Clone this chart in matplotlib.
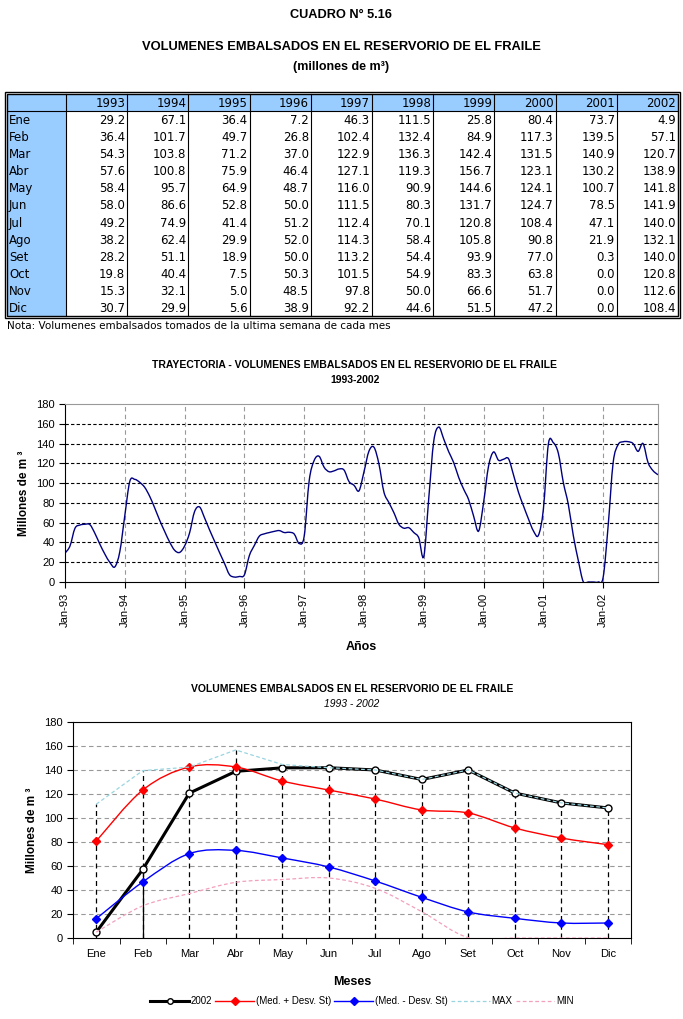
import numpy as np
import matplotlib
matplotlib.use("Agg")
import matplotlib.pyplot as plt
from matplotlib.path import Path
from matplotlib.patches import PathPatch, Rectangle
from matplotlib.lines import Line2D

plt.rcParams['font.family'] = ['Liberation Sans', 'DejaVu Sans']
NARROW = ['Liberation Sans Narrow', 'Liberation Sans', 'DejaVu Sans']

# --- data (millones de m3, ultima semana de cada mes) ---
meses = ["Ene", "Feb", "Mar", "Abr", "May", "Jun", "Jul", "Ago", "Set", "Oct", "Nov", "Dic"]
anios = [1993, 1994, 1995, 1996, 1997, 1998, 1999, 2000, 2001, 2002]
y1993 = [29.2, 36.4, 54.3, 57.6, 58.4, 58.0, 49.2, 38.2, 28.2, 19.8, 15.3, 30.7]
y1994 = [67.1, 101.7, 103.8, 100.8, 95.7, 86.6, 74.9, 62.4, 51.1, 40.4, 32.1, 29.9]
y1995 = [36.4, 49.7, 71.2, 75.9, 64.9, 52.8, 41.4, 29.9, 18.9, 7.5, 5.0, 5.6]
y1996 = [7.2, 26.8, 37.0, 46.4, 48.7, 50.0, 51.2, 52.0, 50.0, 50.3, 48.5, 38.9]
y1997 = [46.3, 102.4, 122.9, 127.1, 116.0, 111.5, 112.4, 114.3, 113.2, 101.5, 97.8, 92.2]
y1998 = [111.5, 132.4, 136.3, 119.3, 90.9, 80.3, 70.1, 58.4, 54.4, 54.9, 50.0, 44.6]
y1999 = [25.8, 84.9, 142.4, 156.7, 144.6, 131.7, 120.8, 105.8, 93.9, 83.3, 66.6, 51.5]
y2000 = [80.4, 117.3, 131.5, 123.1, 124.1, 124.7, 108.4, 90.8, 77.0, 63.8, 51.7, 47.2]
y2001 = [73.7, 139.5, 140.9, 130.2, 100.7, 78.5, 47.1, 21.9, 0.3, 0.0, 0.0, 0.0]
y2002 = [4.9, 57.1, 120.7, 138.9, 141.8, 141.9, 140.0, 132.1, 140.0, 120.8, 112.6, 108.4]
columnas = [y1993, y1994, y1995, y1996, y1997, y1998, y1999, y2000, y2001, y2002]

# bottom chart series
med_mas = [80.8, 123.3, 142.5, 142.5, 130.8, 123.3, 115.8, 106.7, 104.2, 91.7, 83.3, 77.8]
med_menos = [16.1, 46.7, 70.3, 73.0, 66.7, 59.2, 47.5, 33.9, 21.7, 16.4, 12.5, 12.5]
vmax = [111.5, 139.5, 142.4, 156.7, 144.6, 141.9, 140.0, 132.1, 140.0, 120.8, 112.6, 108.4]
vmin = [4.9, 26.8, 37.0, 46.4, 48.7, 50.0, 41.4, 21.9, 0.3, 0.0, 0.0, 0.0]

W, H = 683, 1019
fig = plt.figure(figsize=(W / 100, H / 100), dpi=100)
fig.patch.set_facecolor("white")


def smooth_path(x, y):
    # excel-like smoothed line (catmull-rom bezier)
    pts = np.column_stack([x, y]).astype(float)
    n = len(pts)
    verts = [pts[0]]
    codes = [Path.MOVETO]
    for i in range(n - 1):
        p0 = pts[i - 1] if i > 0 else pts[i]
        p1 = pts[i]
        p2 = pts[i + 1]
        p3 = pts[i + 2] if i + 2 < n else pts[i + 1]
        verts += [p1 + (p2 - p0) / 6, p2 - (p3 - p1) / 6, p2]
        codes += [Path.CURVE4] * 3
    return Path(verts, codes)


# --- table + titles on a pixel-space overlay ---
ax0 = fig.add_axes([0, 0, 1, 1])
ax0.set_xlim(0, W)
ax0.set_ylim(H, 0)
ax0.axis("off")

ax0.text(341, 15, "CUADRO N° 5.16", ha="center", va="center", fontsize=9.2,
         fontweight="bold", family=NARROW)
ax0.text(341, 47, "VOLUMENES EMBALSADOS EN EL RESERVORIO DE EL FRAILE", ha="center",
         va="center", fontsize=9.3, fontweight="bold", family=NARROW)
ax0.text(341, 67, "(millones de m³)", ha="center", va="center", fontsize=9,
         fontweight="bold", family=NARROW)

blue = "#99CCFF"
tx0, tx1, ty0, ty1 = 7, 678, 94, 316
col0 = 66
cw = (tx1 - col0) / len(anios)
hdr = 111
rh = (ty1 - hdr) / len(meses)

ax0.add_patch(Rectangle((tx0, ty0), tx1 - tx0, hdr - ty0, facecolor=blue, edgecolor="none"))
ax0.add_patch(Rectangle((tx0, ty0), col0 - tx0, ty1 - ty0, facecolor=blue, edgecolor="none"))
ax0.add_patch(Rectangle((5, 92), 675, 226, fill=False, edgecolor="black", lw=1))
ax0.add_patch(Rectangle((tx0, ty0), tx1 - tx0, ty1 - ty0, fill=False, edgecolor="black", lw=1))
ax0.plot([tx0, tx1], [hdr, hdr], color="black", lw=0.8)
for k in range(len(anios)):
    xx = col0 + cw * k
    ax0.plot([xx, xx], [ty0, ty1], color="black", lw=0.8)

for k, an in enumerate(anios):
    xr = col0 + cw * (k + 1) - 2
    ax0.text(xr, (ty0 + hdr) / 2 + 1, str(an), ha="right", va="center", fontsize=8.5,
             family="DejaVu Sans")
    for i, v in enumerate(columnas[k]):
        ax0.text(xr, hdr + rh * i + rh / 2 + 1, f"{v:.1f}", ha="right", va="center",
                 fontsize=8.5, family="DejaVu Sans")
for i, m in enumerate(meses):
    ax0.text(tx0 + 2, hdr + rh * i + rh / 2 + 1, m, ha="left", va="center", fontsize=8.5,
             family="DejaVu Sans")
ax0.text(7, 326, "Nota: Volumenes embalsados tomados de la ultima semana de cada mes",
         ha="left", va="center", fontsize=7.5, family="DejaVu Sans")

# --- trajectory chart ---
ax0.text(355, 365, "TRAYECTORIA - VOLUMENES EMBALSADOS EN EL RESERVORIO DE EL FRAILE",
         ha="center", va="center", fontsize=7.5, fontweight="bold", family=NARROW)
ax0.text(355, 380, "1993-2002", ha="center", va="center", fontsize=7.5,
         fontweight="bold", family=NARROW)

serie = np.concatenate(columnas)
idx = np.arange(len(serie))
ax1 = fig.add_axes([65 / W, 1 - 582 / H, 593 / W, 178 / H])
ax1.set_xlim(0, len(serie) - 1)
ax1.set_ylim(0, 180)
ax1.add_patch(PathPatch(smooth_path(idx, serie), fill=False, edgecolor="#000080", lw=1))
ax1.set_yticks(range(0, 181, 20))
ax1.set_xticks(range(0, len(serie), 12))
ax1.set_xticklabels([f"Jan-{str(a)[2:]}" for a in anios], rotation=90, fontsize=8)
ax1.tick_params(axis="y", labelsize=8, length=4, direction="out")
ax1.tick_params(axis="x", length=4, direction="out")
for yy in range(20, 180, 20):
    ax1.axhline(yy, color="black", lw=0.8, ls=(0, (3, 2)), zorder=0)
for xx in range(12, len(serie), 12):
    ax1.axvline(xx, color="#999999", lw=0.8, ls=(0, (4, 3)), zorder=0)
for s in ["top", "right"]:
    ax1.spines[s].set_color("#999999")
ax1.set_ylabel("Millones de m ³", fontsize=8.5, fontweight="bold")
ax1.set_xlabel("Años", fontsize=9, fontweight="bold", family=NARROW, labelpad=10)

# --- monthly envelope chart ---
ax0.text(352, 689, "VOLUMENES EMBALSADOS EN EL RESERVORIO DE EL FRAILE", ha="center",
         va="center", fontsize=7.5, fontweight="bold", family=NARROW)
ax0.text(352, 704, "1993 - 2002", ha="center", va="center", fontsize=7.5,
         style="italic", family=NARROW)

x = np.arange(len(meses))
ax2 = fig.add_axes([73 / W, 1 - 938 / H, 558 / W, 216 / H])
ax2.set_xlim(-0.5, len(meses) - 0.5)
ax2.set_ylim(0, 180)
for yy in range(20, 180, 20):
    ax2.axhline(yy, color="#999999", lw=0.8, ls=(0, (4, 3)), zorder=0)
tope = np.max([y2002, med_mas, med_menos, vmax, vmin], axis=0)
ax2.vlines(x, 0, tope, colors="black", lw=0.9, linestyles=(0, (4, 3)), zorder=1)
# solid drop line under the 2002 point at Feb, as in the original
ax2.vlines(x[1], 0, y2002[1], colors="black", lw=0.9, zorder=1)

ax2.plot(x, y2002, color="black", lw=2.2, marker="o", mfc="white", mec="black", ms=5, zorder=3)
ax2.add_patch(PathPatch(smooth_path(x, med_mas), fill=False, edgecolor="red", lw=1, zorder=3))
ax2.plot(x, med_mas, ls="none", marker="D", color="red", ms=4.5, zorder=4)
ax2.add_patch(PathPatch(smooth_path(x, med_menos), fill=False, edgecolor="#0000FF", lw=1, zorder=3))
ax2.plot(x, med_menos, ls="none", marker="D", color="#0000FF", ms=4.5, zorder=4)
ax2.plot(x, vmax, color="#99D5E0", lw=0.9, ls=(0, (3, 2)), zorder=5)
ax2.add_patch(PathPatch(smooth_path(x, vmin), fill=False, edgecolor="#F2A0BE", lw=0.9,
                        ls=(0, (3, 2)), zorder=5))

ax2.set_xticks(x)
ax2.set_xticklabels(meses, fontsize=8)
ax2.set_xticks(np.arange(-0.5, len(meses), 1), minor=True)
ax2.tick_params(axis="x", which="major", length=0, pad=8)
ax2.tick_params(axis="x", which="minor", length=4, direction="out")
ax2.set_yticks(range(0, 181, 20))
ax2.tick_params(axis="y", labelsize=8, length=4, direction="out")
ax2.set_ylabel("Millones de m ³", fontsize=8.5, fontweight="bold")
ax2.set_xlabel("Meses", fontsize=9, fontweight="bold", family=NARROW, labelpad=12)

handles = [
    Line2D([], [], color="black", lw=2.2, marker="o", mfc="white", mec="black", ms=4),
    Line2D([], [], color="red", lw=1, marker="D", ms=4),
    Line2D([], [], color="#0000FF", lw=1, marker="D", ms=4),
    Line2D([], [], color="#99D5E0", lw=0.9, ls=(0, (3, 2))),
    Line2D([], [], color="#F2A0BE", lw=0.9, ls=(0, (3, 2))),
]
labels = ["2002", "(Med. + Desv. St)", "(Med. - Desv. St)", "MAX", "MIN"]
fig.legend(handles, labels, loc="center", bbox_to_anchor=(362 / W, 1 - 1001 / H), ncol=5,
           frameon=False, fontsize=7, handlelength=4, columnspacing=0.3, handletextpad=0.2)

fig.savefig("out.png", dpi=100)
